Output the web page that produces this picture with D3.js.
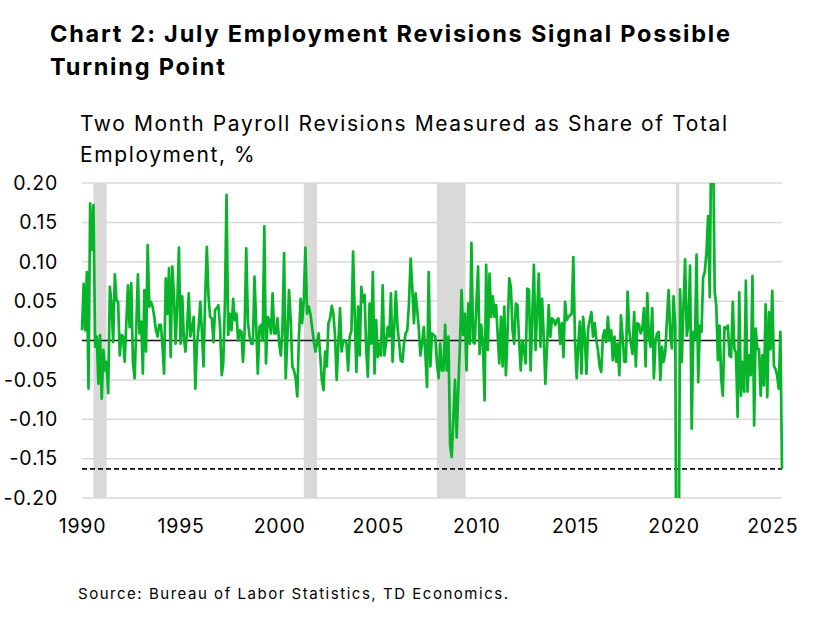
<!DOCTYPE html>
<html><head><meta charset="utf-8">
<script src="https://cdn.jsdelivr.net/npm/d3@7"></script>
<style>
body{margin:0;background:#fff}
svg{display:block}
text{font-family:Inter,"Noto Sans",sans-serif;fill:#000}
</style>
</head><body>
<svg id="chart" width="827" height="617"></svg>
<script>
// ---- data ----
const startDate = new Date(1990, 0, 1); // monthly, Jan 1990 .. Jul 2025
const revisions = [
  0.013, 0.072, 0.013, 0.087, -0.061, 0.174, 0.115, 0.172, -0.008, 0.005, -0.055, 0.007,
  -0.074, -0.012, -0.038, -0.027, -0.067, 0.068, 0.047, -0.002, 0.084, 0.051, 0.049, -0.019,
  0.007, 0.005, -0.027, 0.022, 0.070, 0.017, 0.073, -0.027, -0.048, 0.013, 0.084, 0.009,
  0.024, -0.042, 0.064, -0.014, 0.121, 0.043, 0.049, 0.043, 0.030, 0.013, 0.005, 0.020,
  0.020, -0.008, -0.042, 0.079, 0.034, 0.092, -0.021, 0.094, 0.056, -0.004, 0.047, 0.118,
  -0.004, 0.056, 0.005, -0.014, 0.013, 0.060, 0.005, 0.017, 0.030, -0.061, -0.004, 0.017,
  0.049, 0.009, -0.033, 0.056, 0.119, 0.056, 0.030, 0.028, -0.002, 0.039, 0.041, 0.045,
  0.017, -0.044, -0.029, 0.047, 0.185, 0.007, 0.034, 0.013, 0.053, 0.026, 0.034, 0.000,
  0.013, 0.011, -0.027, 0.013, 0.117, 0.024, 0.005, -0.004, -0.004, 0.081, 0.020, -0.042,
  0.017, 0.020, 0.000, 0.145, -0.029, 0.030, 0.026, 0.009, 0.060, 0.009, 0.009, 0.028,
  -0.004, -0.019, 0.013, 0.111, -0.048, 0.005, 0.064, 0.026, -0.033, -0.038, -0.048, -0.071,
  0.005, 0.053, 0.022, 0.051, 0.118, 0.034, 0.043, 0.034, 0.017, 0.000, -0.014, -0.004,
  0.009, -0.021, -0.050, -0.063, -0.014, -0.033, 0.022, 0.028, 0.044, 0.034, 0.005, -0.050,
  -0.004, 0.041, -0.014, 0.000, 0.000, -0.004, -0.038, 0.005, 0.013, 0.113, 0.030, -0.040,
  0.043, -0.019, 0.068, 0.049, 0.058, -0.014, -0.046, 0.047, -0.004, 0.087, -0.042, 0.026,
  -0.021, -0.004, -0.019, 0.070, -0.019, -0.004, 0.017, 0.005, 0.060, -0.027, 0.017, 0.062,
  0.017, -0.004, -0.025, -0.027, -0.004, 0.009, 0.013, 0.047, 0.104, 0.068, 0.022, 0.060,
  0.039, 0.013, -0.019, -0.004, 0.017, -0.017, -0.059, 0.087, -0.033, 0.009, 0.007, 0.005,
  -0.029, -0.048, -0.004, -0.038, -0.038, 0.020, -0.038, 0.005, -0.133, -0.148, -0.097, -0.050,
  -0.123, -0.059, -0.006, 0.064, 0.007, 0.034, -0.038, 0.047, -0.004, 0.124, -0.002, -0.004,
  0.047, 0.094, -0.017, 0.020, -0.004, -0.076, 0.096, -0.012, 0.085, 0.030, 0.056, 0.030,
  0.045, 0.005, -0.029, 0.030, -0.033, 0.043, -0.044, 0.010, 0.079, 0.068, 0.013, -0.004,
  0.047, 0.045, 0.000, -0.038, 0.000, -0.012, -0.029, 0.066, 0.064, -0.038, 0.030, 0.096,
  -0.012, 0.039, 0.085, -0.008, 0.053, 0.005, -0.055, -0.008, 0.045, 0.005, 0.028, 0.026,
  0.020, 0.026, 0.028, -0.004, 0.022, -0.021, 0.049, 0.026, 0.030, 0.032, 0.034, 0.106,
  0.000, -0.048, -0.006, 0.024, -0.042, 0.030, 0.005, -0.042, 0.015, 0.026, 0.036, 0.005,
  0.022, 0.000, -0.012, -0.033, -0.040, 0.005, 0.013, -0.002, 0.030, 0.000, 0.013, -0.025,
  0.005, -0.027, -0.004, -0.044, 0.032, 0.005, -0.027, -0.027, 0.062, 0.013, -0.004, -0.017,
  0.036, -0.033, 0.022, 0.020, 0.009, 0.015, 0.041, -0.033, 0.060, 0.005, -0.008, 0.041,
  -0.048, 0.000, 0.009, 0.011, -0.050, -0.008, -0.027, -0.014, 0.028, 0.064, 0.005, -0.010,
  0.056, 0.017, -0.450, -0.350, 0.065, -0.027, 0.040, 0.103, 0.006, 0.019, 0.095, -0.112,
  0.011, 0.002, 0.109, -0.053, 0.019, 0.011, 0.080, 0.087, 0.112, 0.158, 0.055, 0.280,
  0.250, 0.061, 0.045, -0.025, 0.019, -0.049, -0.070, 0.017, 0.015, 0.019, -0.019, -0.021,
  0.049, -0.011, -0.015, -0.097, 0.061, -0.070, -0.027, -0.065, 0.076, -0.065, -0.019, -0.044,
  0.082, -0.108, 0.015, -0.011, -0.011, -0.070, -0.019, -0.057, 0.046, -0.072, 0.036, -0.011,
  0.063, -0.032, -0.036, -0.044, -0.061, 0.011, -0.163
];
const yTickValues = [0.20, 0.15, 0.10, 0.05, 0.00, -0.05, -0.10, -0.15, -0.20];
const xTickYears = [1990, 1995, 2000, 2005, 2010, 2015, 2020, 2025];
const recessionStarts = ["1990-08-01", "2001-04-01", "2008-01-01", "2020-02-15"];
const recessionEnds   = ["1991-04-01", "2001-12-01", "2009-06-15", "2020-04-15"];
const titleLines = ["Chart 2: July Employment Revisions Signal Possible", "Turning Point"];
const subtitleLines = ["Two Month Payroll Revisions Measured as Share of Total", "Employment, %"];
const sourceText = "Source: Bureau of Labor Statistics, TD Economics.";

// ---- chart ----
(function () {
const svg = d3.select("#chart");
const pL = 82, pR = 782, pT = 183, pB = 498;
const font = 'Inter,"Noto Sans",sans-serif';

// fit letter-spacing so the first line of a block spans a target width
function fitBlock(sel, targetWidth) {
  const first = sel.nodes()[0];
  const n = first.textContent.length;
  const w = first.getComputedTextLength();
  const ls = Math.max(0, (targetWidth - w) / (n - 1));
  sel.style("letter-spacing", ls + "px");
}

const series = revisions.map((v, i) => ({date: new Date(1990, i, 1), v}));
const x = d3.scaleTime()
  .domain([startDate, series[series.length - 1].date])
  .range([pL, pR]);
const y = d3.scaleLinear().domain([-0.2, 0.2]).range([pB, pT]);

// title
const tSel = svg.append("g").selectAll("text").data(titleLines).join("text")
  .attr("x", 50).attr("y", (d, i) => 41.5 + i * 33)
  .style("font-size", "23.5px").style("font-weight", 700)
  .text(d => d);
fitBlock(tSel, 680);

const sSel = svg.append("g").selectAll("text").data(subtitleLines).join("text")
  .attr("x", 80).attr("y", (d, i) => 131 + i * 31)
  .style("font-size", "21px")
  .text(d => d);
fitBlock(sSel, 647);

const srcSel = svg.append("g").selectAll("text").data([sourceText]).join("text")
  .attr("x", 78).attr("y", 599)
  .style("font-size", "15px").text(d => d);
fitBlock(srcSel, 430);

// recession bands
const recessions = recessionStarts.map((s, i) => ({s: new Date(s + "T00:00:00"), e: new Date(recessionEnds[i] + "T00:00:00")}));
svg.append("g").selectAll("rect").data(recessions).join("rect")
  .attr("x", d => x(d.s)).attr("width", d => x(d.e) - x(d.s))
  .attr("y", pT).attr("height", pB - pT)
  .attr("fill", "#d9d9d9");

// gridlines
svg.append("g").selectAll("line").data(yTickValues).join("line")
  .attr("x1", pL).attr("x2", pR)
  .attr("y1", d => y(d)).attr("y2", d => y(d))
  .attr("stroke", "#d9d9d9").attr("stroke-width", 1.5);

// y axis labels (plain hyphen for negatives)
const fmt = d3.format(".2f");
const yAxis = d3.axisLeft(y).tickValues(yTickValues)
  .tickFormat(d => fmt(d).replace("\u2212", "-")).tickSize(0).tickPadding(0);
const gy = svg.append("g").attr("transform", "translate(58,0)").call(yAxis);
gy.select(".domain").remove();
gy.selectAll("text").style("font-size", "19.5px").attr("fill", "#000")
  .style("font-family", font).style("letter-spacing", "0.8px");

// x axis labels
const xAxis = d3.axisBottom(x).tickValues(xTickYears.map(yv => new Date(yv, 0, 1)))
  .tickFormat(d3.timeFormat("%Y")).tickSize(0).tickPadding(0);
const gx = svg.append("g").attr("transform", "translate(0,519)").call(xAxis);
gx.select(".domain").remove();
gx.selectAll("text").style("font-size", "19.5px").attr("fill", "#000")
  .style("font-family", font).style("letter-spacing", "0.8px");

// zero line
svg.append("line").attr("x1", pL).attr("x2", pR)
  .attr("y1", y(0)).attr("y2", y(0))
  .attr("stroke", "#1a1a1a").attr("stroke-width", 1.5);

// latest value dashed line
const latest = revisions[revisions.length - 1];
svg.append("line").attr("x1", pL).attr("x2", pR)
  .attr("y1", y(latest)).attr("y2", y(latest))
  .attr("stroke", "#111").attr("stroke-width", 1.7).attr("stroke-dasharray", "5,3");

// clip
svg.append("defs").append("clipPath").attr("id", "plotclip")
  .append("rect").attr("x", pL - 5).attr("y", pT).attr("width", pR - pL + 10).attr("height", pB - pT);

const line = d3.line().x(d => x(d.date)).y(d => y(d.v));
svg.append("path").datum(series)
  .attr("clip-path", "url(#plotclip)")
  .attr("d", line)
  .attr("fill", "none").attr("stroke", "#08b52a").attr("stroke-width", 2.7)
  .attr("stroke-linejoin", "round");
})();
</script>
</body></html>
